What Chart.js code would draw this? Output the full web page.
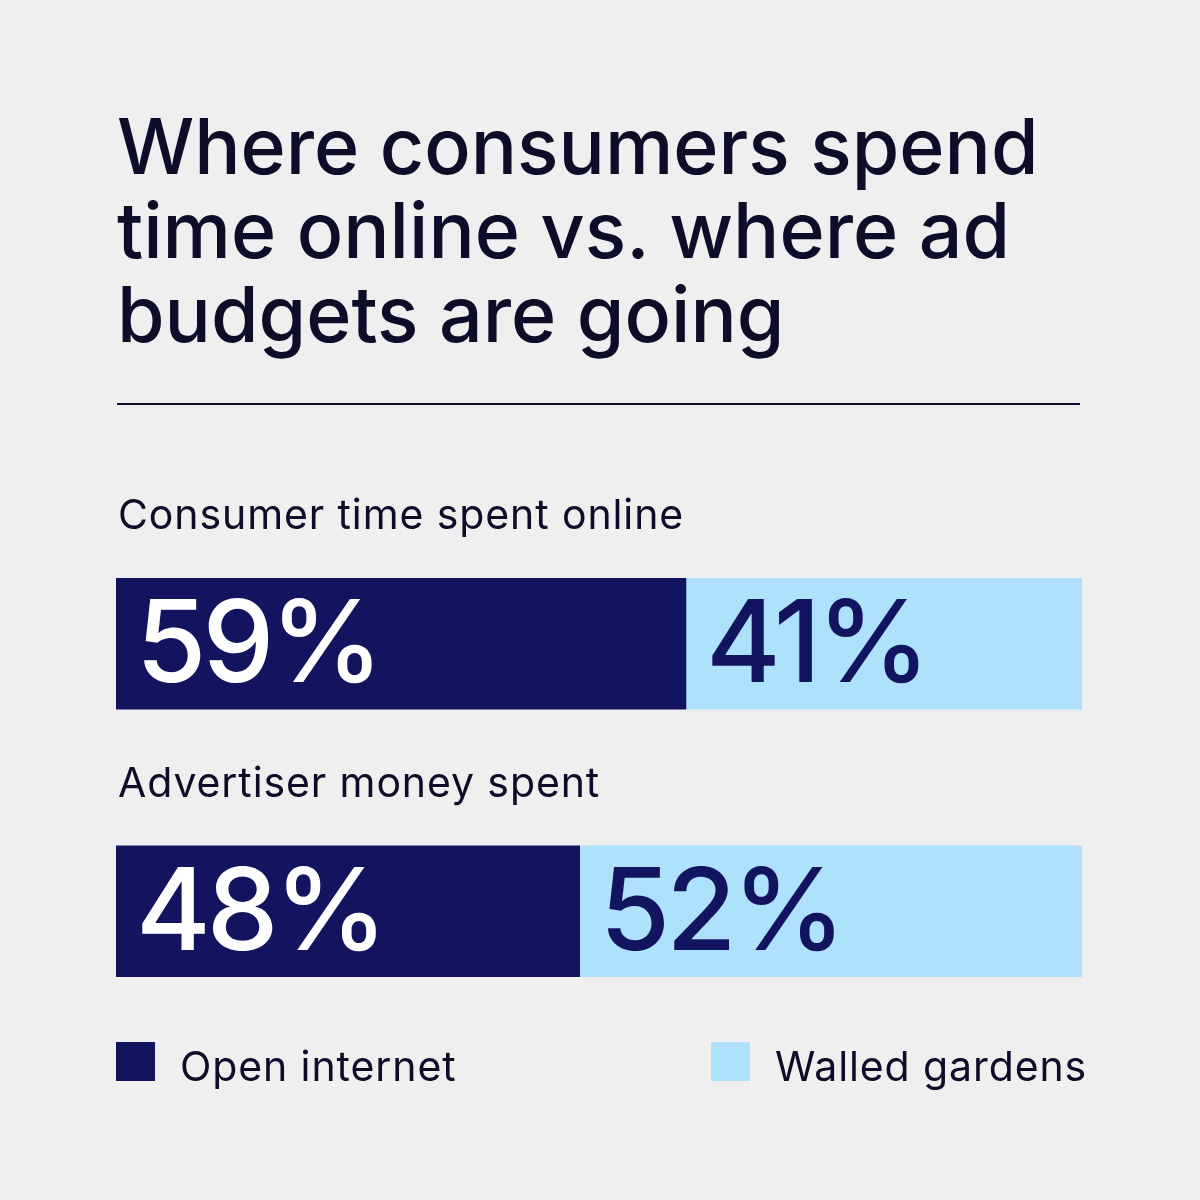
<!DOCTYPE html>
<html lang="en">
<head>
    <meta charset="UTF-8">
    <title>Where consumers spend time online</title>
    <script src="https://cdn.jsdelivr.net/npm/chart.js"></script>
    <style>
        body { margin: 0; background: #efefef; font-family: Inter, "Noto Sans", sans-serif; color: #0d0d29; }
        #wrap { position: relative; width: 1200px; height: 1200px; overflow: hidden; }
        h1 { position: absolute; left: 117px; top: 104px; margin: 0; font-size: 77px; line-height: 84px; font-weight: 500; letter-spacing: 0; }
        #rule { position: absolute; left: 117px; top: 403px; width: 963px; height: 2px; background: #0d0d29; }
        #chart { position: absolute; left: 0; top: 0; }
    </style>
</head>
<body>
<div id="wrap">
    <h1>Where consumers spend<br>time online vs. where ad<br>budgets are going</h1>
    <div id="rule"></div>
    <canvas id="chart" width="1200" height="1200"></canvas>
</div>
<script>
    // data
    const categories = ['Consumer time spent online', 'Advertiser money spent'];
    const seriesNames = ['Open internet', 'Walled gardens'];
    const openInternet = [59, 48];
    const walledGardens = [41, 52];

    const navy = '#131460';
    const lightBlue = '#aee1fb';
    const ink = '#0d0d29';

    // draws category captions, value labels and the legend
    const labelsPlugin = {
        id: 'labels',
        afterDatasetsDraw(chart) {
            const ctx = chart.ctx;
            const area = chart.chartArea;
            ctx.save();

            // captions above each bar
            ctx.fillStyle = ink;
            ctx.font = '400 41px Inter';
            ctx.letterSpacing = '0.9px';
            ctx.textBaseline = 'alphabetic';
            ctx.textAlign = 'left';
            chart.data.labels.forEach((label, i) => {
                const bar = chart.getDatasetMeta(0).data[i];
                ctx.fillText(label, area.left + 2, bar.y - bar.height / 2 - 49);
            });

            // percentages inside segments
            ctx.font = '500 114px Inter';
            ctx.letterSpacing = '-4px';
            ctx.textBaseline = 'middle';
            chart.data.datasets.forEach((ds, di) => {
                chart.getDatasetMeta(di).data.forEach((bar, i) => {
                    ctx.fillStyle = di === 0 ? '#ffffff' : navy;
                    ctx.fillText(ds.data[i] + '%', bar.base + 20, bar.y + 4);
                });
            });

            // legend
            const legendTop = 1042;
            ctx.font = '400 41px Inter';
            ctx.letterSpacing = '0.9px';
            ctx.textBaseline = 'alphabetic';
            chart.data.datasets.forEach((ds, di) => {
                const x = di === 0 ? area.left : 711;
                ctx.fillStyle = ds.backgroundColor;
                ctx.fillRect(x, legendTop, 39, 39);
                ctx.fillStyle = ink;
                ctx.fillText(ds.label, x + 64, legendTop + 39);
            });
            ctx.restore();
        }
    };

    new Chart(document.getElementById('chart'), {
        type: 'bar',
        data: {
            labels: categories,
            datasets: [
                { label: seriesNames[0], data: openInternet, backgroundColor: navy },
                { label: seriesNames[1], data: walledGardens, backgroundColor: lightBlue }
            ]
        },
        options: {
            indexAxis: 'y',
            responsive: false,
            devicePixelRatio: 1,
            animation: false,
            layout: { padding: { left: 116, right: 118, top: 510, bottom: 155 } },
            barThickness: 131,
            scales: {
                x: { stacked: true, min: 0, max: 100, display: false },
                y: { stacked: true, display: false }
            },
            plugins: {
                legend: { display: false },
                tooltip: { enabled: false }
            }
        },
        plugins: [labelsPlugin]
    });
</script>
</body>
</html>
